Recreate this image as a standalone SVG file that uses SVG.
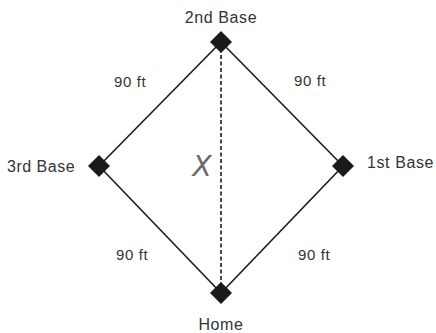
<svg xmlns="http://www.w3.org/2000/svg" width="436" height="333" viewBox="0 0 436 333">
<style>
  .lbl { font-family: "Liberation Sans", Arial, sans-serif; font-size: 16px; fill: #333; }
  .side { font-family: "Liberation Sans", Arial, sans-serif; font-size: 15px; fill: #333; }
  .edge { stroke: #1a1a1a; stroke-width: 1.6; fill: none; }
  .dash { stroke: #1a1a1a; stroke-width: 1.6; stroke-dasharray: 4 2.5; fill: none; }
  .base { fill: #1a1a1a; }
</style>
<rect width="436" height="333" fill="#ffffff"/>
<g id="connectors">
  <line class="edge" x1="221" y1="42" x2="343" y2="166"/>
  <line class="edge" x1="343" y1="166" x2="221" y2="293"/>
  <line class="edge" x1="221" y1="293" x2="99" y2="166"/>
  <line class="edge" x1="99" y1="166" x2="221" y2="42"/>
  <line class="dash" x1="221" y1="42" x2="221" y2="293"/>
</g>
<g id="second-base">
  <polygon class="base" points="221,31 232,42 221,53 210,42"/>
  <text class="lbl" x="221" y="22.5" text-anchor="middle" letter-spacing="0.6">2nd Base</text>
</g>
<g id="third-base">
  <polygon class="base" points="99,155 110,166 99,177 88,166"/>
  <text class="lbl" x="7" y="171.5" letter-spacing="0.5">3rd Base</text>
</g>
<g id="first-base">
  <polygon class="base" points="343,155 354,166 343,177 332,166"/>
  <text class="lbl" x="367" y="167.5" letter-spacing="0.6">1st Base</text>
</g>
<g id="home">
  <polygon class="base" points="221,282 232,293 221,304 210,293"/>
  <text class="lbl" x="221" y="330" text-anchor="middle" letter-spacing="0.6">Home</text>
</g>
<g id="side-labels">
  <text class="side" x="114" y="87" letter-spacing="0.6">90 ft</text>
  <text class="side" x="294" y="86" letter-spacing="0.6">90 ft</text>
  <text class="side" x="116" y="260" letter-spacing="0.6">90 ft</text>
  <text class="side" x="298" y="260" letter-spacing="0.6">90 ft</text>
</g>
<g id="x-label">
  <text x="202" y="176" text-anchor="middle" font-family="'DejaVu Sans', sans-serif" font-style="italic" font-size="28" fill="#6a6a6a">X</text>
</g>
</svg>
